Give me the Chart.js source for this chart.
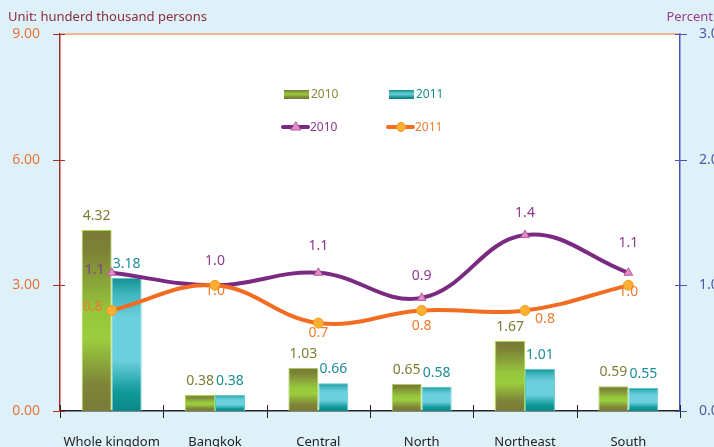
<!DOCTYPE html>
<html>
<head>
<meta charset="utf-8">
<script src="https://cdn.jsdelivr.net/npm/chart.js@4.4.0/dist/chart.umd.min.js"></script>
<style>
  html, body { margin: 0; padding: 0; background: #dff1f8; }
  #wrap { width: 714px; height: 447px; position: relative; }
</style>
</head>
<body>
<div id="wrap"><canvas id="chart" width="714" height="447"></canvas></div>
<script>
// Data
const categories = ['Whole kingdom', 'Bangkok', 'Central', 'North', 'Northeast', 'South'];
const persons2010 = [4.32, 0.38, 1.03, 0.65, 1.67, 0.59];
const persons2011 = [3.18, 0.38, 0.66, 0.58, 1.01, 0.55];
const percent2010 = [1.1, 1.0, 1.1, 0.9, 1.4, 1.1];
const percent2011 = [0.8, 1.0, 0.7, 0.8, 0.8, 1.0];
const leftTicks = [0, 3, 6, 9];
const rightTicks = [0, 1, 2, 3];

const FONT = '"Noto Sans", "Open Sans", sans-serif';

// label offsets for line values [dx, dy] per point
const lineLabelOffsets = [
    [[-17, -3], [0, -24], [0, -27], [0, -22], [0, -22], [0, -30]],
    [[-19, -3], [0, 6], [0, 10], [0, 16], [20, 9], [0, 7]]
];

function barGradient(ctx, stops, fallback) {
    const chart = ctx.chart;
    const y = chart.scales.y;
    if (!chart.chartArea || !y) return fallback;
    const v = ctx.raw;
    const top = y.getPixelForValue(v);
    const bottom = y.getPixelForValue(0);
    if (!isFinite(top) || bottom - top < 1) return fallback;
    const g = chart.ctx.createLinearGradient(0, top, 0, bottom);
    stops.forEach(s => g.addColorStop(s[0], s[1]));
    return g;
}

const greenStops = [[0, '#7a7a36'], [0.12, '#7d8236'], [0.45, '#95c63c'], [0.6, '#9bcd3e'], [0.85, '#7e8538'], [1, '#7a7a36']];
const tealStops = [[0, '#13908f'], [0.12, '#3fb5bd'], [0.3, '#6ccfdd'], [0.62, '#6ccfdd'], [0.85, '#129b9b'], [1, '#0a8686']];

const ticksCross = {
    id: 'ticksCross',
    beforeDraw(chart) {
        const { ctx, chartArea: a } = chart;
        ctx.save();
        ctx.fillStyle = '#ffffff';
        ctx.fillRect(a.left, a.top, a.right - a.left, a.bottom - a.top);
        ctx.restore();
    },
    afterDraw(chart) {
        const { ctx, chartArea: a, scales } = chart;
        ctx.save();
        // top border
        ctx.strokeStyle = '#f2a070';
        ctx.lineWidth = 1.5;
        ctx.beginPath();
        ctx.moveTo(a.left, a.top);
        ctx.lineTo(a.right, a.top);
        ctx.stroke();

        ctx.lineWidth = 1;
        // x ticks at category boundaries
        ctx.strokeStyle = '#222';
        for (let i = 0; i <= categories.length; i++) {
            const x = Math.round(scales.x.getPixelForValue(i - 0.5)) + 0.5;
            ctx.beginPath();
            ctx.moveTo(x, a.bottom - 6);
            ctx.lineTo(x, a.bottom + 7);
            ctx.stroke();
        }
        // left ticks
        ctx.strokeStyle = '#a0302a';
        leftTicks.forEach(v => {
            const y = Math.round(scales.y.getPixelForValue(v)) + 0.5;
            ctx.beginPath();
            ctx.moveTo(a.left - 7, y);
            ctx.lineTo(a.left + 5, y);
            ctx.stroke();
        });
        // right ticks
        ctx.strokeStyle = '#4a55b0';
        rightTicks.forEach(v => {
            const y = Math.round(scales.y1.getPixelForValue(v)) + 0.5;
            ctx.beginPath();
            ctx.moveTo(a.right - 5, y);
            ctx.lineTo(a.right + 7, y);
            ctx.stroke();
        });

        // titles
        ctx.font = '13px ' + FONT;
        ctx.textBaseline = 'middle';
        ctx.fillStyle = '#8b2b3d';
        ctx.textAlign = 'left';
        ctx.fillText('Unit: hunderd thousand persons', 8, 17);
        ctx.fillStyle = '#9b3b8b';
        ctx.textAlign = 'right';
        ctx.fillText('Percent', 713, 17);

        // legend
        ctx.font = '12px ' + FONT;
        ctx.textAlign = 'left';
        const lg = [
            { x: 284, y: 94, type: 'bar', stops: greenStops, text: '#8a8a3a', label: '2010' },
            { x: 389, y: 94, type: 'bar', stops: tealStops, text: '#1a8a8a', label: '2011' },
            { x: 283, y: 127, type: 'line', color: '#7b2a82', marker: 'triangle', text: '#8b3a8e', label: '2010' },
            { x: 388, y: 127, type: 'line', color: '#f26d21', marker: 'circle', text: '#f07a30', label: '2011' }
        ];
        lg.forEach(it => {
            if (it.type === 'bar') {
                const g = ctx.createLinearGradient(0, it.y - 4, 0, it.y + 4);
                g.addColorStop(0, it.stops[0][1]);
                g.addColorStop(0.5, it.stops[3][1]);
                g.addColorStop(1, it.stops[5][1]);
                ctx.fillStyle = g;
                ctx.fillRect(it.x, it.y - 4, 25, 9);
            } else {
                ctx.strokeStyle = it.color;
                ctx.lineWidth = 4;
                ctx.lineCap = 'round';
                ctx.beginPath();
                ctx.moveTo(it.x, it.y);
                ctx.lineTo(it.x + 25, it.y);
                ctx.stroke();
                const cx = it.x + 13;
                if (it.marker === 'triangle') {
                    ctx.fillStyle = '#e58cc4';
                    ctx.strokeStyle = '#b05aa5';
                    ctx.lineWidth = 1;
                    ctx.beginPath();
                    ctx.moveTo(cx, it.y - 5);
                    ctx.lineTo(cx + 5, it.y + 3);
                    ctx.lineTo(cx - 5, it.y + 3);
                    ctx.closePath();
                    ctx.fill();
                    ctx.stroke();
                } else {
                    ctx.fillStyle = '#fbb034';
                    ctx.strokeStyle = '#f59a20';
                    ctx.lineWidth = 1;
                    ctx.beginPath();
                    ctx.arc(cx, it.y, 4.5, 0, Math.PI * 2);
                    ctx.fill();
                    ctx.stroke();
                }
            }
            ctx.fillStyle = it.text;
            ctx.fillText(it.label, it.x + 27, it.y + 1);
        });
        ctx.restore();
    },
    afterDatasetsDraw(chart) {
        const { ctx } = chart;
        ctx.save();
        ctx.font = '14px ' + FONT;
        ctx.textAlign = 'center';
        ctx.textBaseline = 'middle';
        chart.data.datasets.forEach((ds, di) => {
            const meta = chart.getDatasetMeta(di);
            meta.data.forEach((el, i) => {
                const v = ds.data[i];
                ctx.fillStyle = ds.labelColor;
                if (ds.type === 'bar') {
                    ctx.fillText(v.toFixed(2), el.x, el.y - 14);
                } else {
                    const off = lineLabelOffsets[di - 2][i];
                    ctx.fillText(v.toFixed(1), el.x + off[0], el.y + off[1]);
                }
            });
        });
        ctx.restore();
    }
};

new Chart(document.getElementById('chart'), {
    data: {
        labels: categories,
        datasets: [
            {
                type: 'bar',
                label: '2010',
                data: persons2010,
                yAxisID: 'y',
                order: 2,
                backgroundColor: c => barGradient(c, greenStops, '#8fbf3a'),
                borderColor: '#a5d64a',
                borderWidth: 1,
                labelColor: '#7d7d34',
                categoryPercentage: 0.58,
                barPercentage: 1
            },
            {
                type: 'bar',
                label: '2011',
                data: persons2011,
                yAxisID: 'y',
                order: 2,
                backgroundColor: c => barGradient(c, tealStops, '#3fb5bd'),
                borderColor: '#5cc8cf',
                borderWidth: 1,
                labelColor: '#1d8d98',
                categoryPercentage: 0.58,
                barPercentage: 1
            },
            {
                type: 'line',
                label: '2010',
                data: percent2010,
                yAxisID: 'y1',
                order: 1,
                borderColor: '#7b2a82',
                borderWidth: 4,
                tension: 0.4,
                pointStyle: 'triangle',
                pointRadius: 5,
                pointBackgroundColor: '#e58cc4',
                pointBorderColor: '#b05aa5',
                pointBorderWidth: 1,
                labelColor: '#8b3a8e'
            },
            {
                type: 'line',
                label: '2011',
                data: percent2011,
                yAxisID: 'y1',
                order: 0,
                borderColor: '#f26d21',
                borderWidth: 4,
                tension: 0.4,
                pointStyle: 'circle',
                pointRadius: 5,
                pointBackgroundColor: '#fbb034',
                pointBorderColor: '#f59a20',
                pointBorderWidth: 1,
                labelColor: '#f07a30'
            }
        ]
    },
    options: {
        responsive: false,
        animation: false,
        layout: { padding: { top: 34, left: 0, right: 0, bottom: 0 } },
        plugins: {
            legend: { display: false },
            tooltip: { enabled: false }
        },
        scales: {
            x: {
                type: 'category',
                offset: true,
                grid: { display: false },
                border: { color: '#222', width: 1.5 },
                ticks: { color: '#222', font: { family: FONT, size: 13 }, padding: 15, maxRotation: 0, autoSkip: false },
                afterFit: s => { s.height = 36; }
            },
            y: {
                position: 'left',
                min: 0,
                max: 9,
                afterBuildTicks: s => { s.ticks = leftTicks.map(v => ({ value: v })); },
                grid: { display: false },
                border: { color: '#a0302a', width: 1.5 },
                ticks: {
                    color: '#e8743b',
                    font: { family: FONT, size: 14 },
                    padding: 12,
                    callback: v => Number(v).toFixed(2)
                },
                afterFit: s => { s.width = 60; }
            },
            y1: {
                position: 'right',
                min: 0,
                max: 3,
                afterBuildTicks: s => { s.ticks = rightTicks.map(v => ({ value: v })); },
                grid: { display: false },
                border: { color: '#4a55b0', width: 1.5 },
                ticks: {
                    color: '#4b5aa8',
                    font: { family: FONT, size: 14 },
                    padding: 11,
                    callback: v => Number(v).toFixed(1)
                },
                afterFit: s => { s.width = 34; }
            }
        }
    },
    plugins: [ticksCross]
});
</script>
</body>
</html>
